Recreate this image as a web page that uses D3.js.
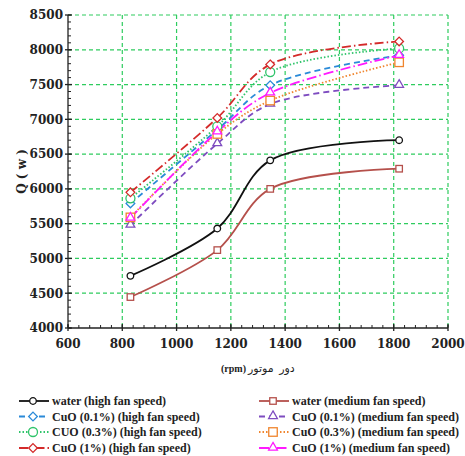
<!DOCTYPE html>
<html>
<head>
<meta charset="utf-8">
<script src="https://cdn.jsdelivr.net/npm/d3@7"></script>
<style>
  body { margin: 0; background: #fff; }
  svg { display: block; }
</style>
</head>
<body>
<div id="chart"></div>
<script>
// motor speed (rpm) and heat transfer Q (w)
const rpm = [830, 1150, 1345, 1820];
const waterHigh = [4750, 5430, 6410, 6700];
const waterMed = [4445, 5120, 6000, 6290];
const cuo01High = [5790, 6850, 7490, 7920];
const cuo03High = [5865, 6900, 7680, 8020];
const cuo1High = [5950, 7020, 7790, 8120];
const cuo01Med = [5480, 6650, 7220, 7490];
const cuo03Med = [5590, 6790, 7270, 7820];
const cuo1Med = [5580, 6820, 7380, 7920];

const xTicks = [600, 800, 1000, 1200, 1400, 1600, 1800, 2000];
const yTicks = [4000, 4500, 5000, 5500, 6000, 6500, 7000, 7500, 8000, 8500];

const series = [
  { name: "water (high fan speed)", values: waterHigh, color: "#111", dash: null, marker: "circle", col: 0, row: 0 },
  { name: "CuO (0.1%) (high fan speed)", values: cuo01High, color: "#2a8ad8", dash: "6,4", marker: "diamond", col: 0, row: 1 },
  { name: "CUO (0.3%) (high fan speed)", values: cuo03High, color: "#2fc46a", dash: "1.5,2", marker: "bigcircle", col: 0, row: 2 },
  { name: "CuO (1%) (high fan speed)", values: cuo1High, color: "#d42a2a", dash: "9,3,1.5,3", marker: "diamond", col: 0, row: 3 },
  { name: "water (medium fan speed)", values: waterMed, color: "#b5504b", dash: null, marker: "square", col: 1, row: 0 },
  { name: "CuO (0.1%) (medium fan speed)", values: cuo01Med, color: "#7e4cc0", dash: "6,4", marker: "triangle", col: 1, row: 1 },
  { name: "CuO (0.3%) (medium fan speed)", values: cuo03Med, color: "#f0852e", dash: "1.5,2", marker: "bigsquare", col: 1, row: 2 },
  { name: "CuO (1%) (medium fan speed)", values: cuo1Med, color: "#ff1aff", dash: "10,3,1.5,3", marker: "triangle", col: 1, row: 3 }
];

const W = 465, H = 456;
const margin = { left: 68, right: 17, top: 15, bottom: 128 };
const width = W - margin.left - margin.right;
const height = H - margin.top - margin.bottom;

const svg = d3.select("#chart").append("svg")
  .attr("width", W)
  .attr("height", H);

const g = svg.append("g")
  .attr("transform", "translate(" + margin.left + "," + margin.top + ")");

const x = d3.scaleLinear().domain([600, 2000]).range([0, width]);
const y = d3.scaleLinear().domain([4000, 8500]).range([height, 0]);

const gridColor = "#2ecc5e";

// grid
g.append("g").selectAll("line")
  .data(xTicks.slice(1))
  .join("line")
  .attr("x1", d => x(d)).attr("x2", d => x(d))
  .attr("y1", 0).attr("y2", height)
  .attr("stroke", gridColor)
  .attr("stroke-width", 1.2)
  .attr("stroke-dasharray", "4,3");

g.append("g").selectAll("line")
  .data(yTicks.slice(1))
  .join("line")
  .attr("x1", 0).attr("x2", width)
  .attr("y1", d => y(d)).attr("y2", d => y(d))
  .attr("stroke", gridColor)
  .attr("stroke-width", 1.2)
  .attr("stroke-dasharray", "4,3");

// axes
const tickFont = "bold 12px 'DejaVu Serif', serif";

const xAxis = g.append("g").attr("transform", "translate(0," + height + ")");
xAxis.append("line").attr("x1", 0).attr("x2", width).attr("stroke", "#222").attr("stroke-width", 1.3);
xAxis.selectAll(".minor")
  .data(d3.range(600, 2001, 40))
  .join("line")
  .attr("x1", d => x(d)).attr("x2", d => x(d))
  .attr("y1", 0).attr("y2", -3)
  .attr("stroke", "#222");
xAxis.selectAll(".major")
  .data(xTicks)
  .join("line")
  .attr("x1", d => x(d)).attr("x2", d => x(d))
  .attr("y1", 3).attr("y2", -4)
  .attr("stroke", "#222").attr("stroke-width", 1.3);
xAxis.selectAll("text")
  .data(xTicks)
  .join("text")
  .attr("x", d => x(d))
  .attr("y", 20)
  .attr("text-anchor", "middle")
  .style("font", tickFont)
  .attr("fill", "#222")
  .text(d => d);

const yAxis = g.append("g");
yAxis.append("line").attr("y1", 0).attr("y2", height).attr("stroke", "#222").attr("stroke-width", 1.3);
yAxis.selectAll(".minor")
  .data(d3.range(4000, 8501, 100))
  .join("line")
  .attr("x1", 0).attr("x2", 3)
  .attr("y1", d => y(d)).attr("y2", d => y(d))
  .attr("stroke", "#222");
yAxis.selectAll(".major")
  .data(yTicks)
  .join("line")
  .attr("x1", -3).attr("x2", 4)
  .attr("y1", d => y(d)).attr("y2", d => y(d))
  .attr("stroke", "#222").attr("stroke-width", 1.3);
yAxis.selectAll("text")
  .data(yTicks)
  .join("text")
  .attr("x", -5)
  .attr("y", d => y(d))
  .attr("dy", "0.36em")
  .attr("text-anchor", "end")
  .style("font", tickFont)
  .attr("fill", "#222")
  .text(d => d);

// axis titles
svg.append("text")
  .attr("transform", "translate(26," + (margin.top + height / 2) + ") rotate(-90)")
  .attr("text-anchor", "middle")
  .style("font", "bold 12px 'DejaVu Serif', serif")
  .attr("fill", "#222")
  .text("Q ( w )");

const xTitleY = margin.top + height + 44;
const xMid = margin.left + width / 2;
svg.append("text")
  .attr("x", xMid - 12)
  .attr("y", xTitleY)
  .attr("text-anchor", "end")
  .style("font", "bold 10px 'Liberation Serif', serif")
  .attr("fill", "#222")
  .text("(rpm)");
svg.append("text")
  .attr("x", xMid - 10)
  .attr("y", xTitleY)
  .attr("text-anchor", "start")
  .style("font", "11px 'DejaVu Sans', sans-serif")
  .style("word-spacing", "2px")
  .attr("fill", "#222")
  .text("دور موتور");

// lines
const line = d3.line()
  .x((d, i) => x(rpm[i]))
  .y(d => y(d))
  .curve(d3.curveCatmullRom.alpha(0.5));

g.append("g").selectAll("path")
  .data(series)
  .join("path")
  .attr("d", d => line(d.values))
  .attr("fill", "none")
  .attr("stroke", d => d.color)
  .attr("stroke-width", 1.8)
  .attr("stroke-dasharray", d => d.dash);

function drawMarker(sel, type, color) {
  if (type === "circle" || type === "bigcircle") {
    sel.append("circle")
      .attr("r", type === "circle" ? 3.3 : 4.5)
      .attr("fill", "#fff").attr("stroke", color).attr("stroke-width", 1.3);
  } else if (type === "square" || type === "bigsquare") {
    const s = type === "square" ? 6.5 : 8.5;
    sel.append("rect")
      .attr("x", -s / 2).attr("y", -s / 2).attr("width", s).attr("height", s)
      .attr("fill", "#fff").attr("stroke", color).attr("stroke-width", 1.3);
  } else {
    const sym = type === "diamond" ? d3.symbolDiamond2 : d3.symbolTriangle2;
    sel.append("path")
      .attr("d", d3.symbol().type(sym).size(type === "diamond" ? 48 : 55))
      .attr("transform", type === "diamond" ? null : "translate(0,-0.5)")
      .attr("fill", "#fff").attr("stroke", color).attr("stroke-width", 1.3);
  }
}

series.forEach(s => {
  const mg = g.append("g");
  s.values.forEach((v, i) => {
    const m = mg.append("g").attr("transform", "translate(" + x(rpm[i]) + "," + y(v) + ")");
    drawMarker(m, s.marker, s.color);
  });
});

// legend
const legend = svg.append("g");
const colX = [19, 259];
const rowY = [401, 416.5, 432, 448];
series.forEach(s => {
  const lx = colX[s.col], ly = rowY[s.row];
  const item = legend.append("g").attr("transform", "translate(" + lx + "," + ly + ")");
  item.append("line")
    .attr("x1", 0).attr("x2", 30)
    .attr("stroke", s.color)
    .attr("stroke-width", 1.8)
    .attr("stroke-dasharray", s.dash);
  const m = item.append("g").attr("transform", "translate(14,0)");
  drawMarker(m, s.marker, s.color);
  item.append("text")
    .attr("x", 33)
    .attr("dy", "0.35em")
    .style("font", "bold 12px 'Liberation Serif', serif")
    .attr("fill", "#222")
    .text(s.name);
});
</script>
</body>
</html>
